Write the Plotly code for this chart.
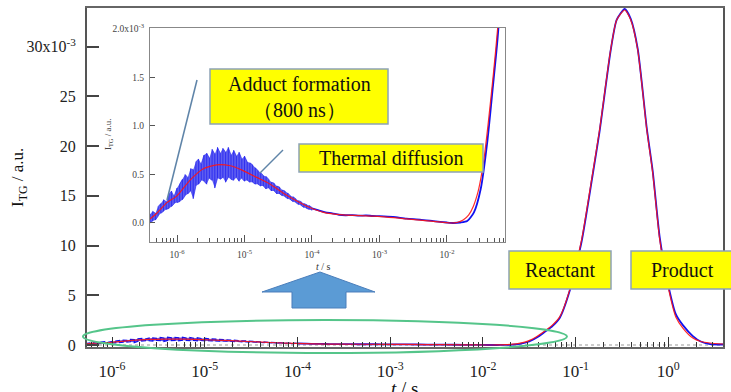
import plotly.graph_objects as go

# ---------------- data (values in units of 1e-3) ----------------
# fitted curve (red)
fit_log10_t = [-6.40, -6.30, -6.15, -6.00, -5.81, -5.61, -5.41, -5.21, -5.02, -4.82,
               -4.62, -4.43, -4.23, -4.03, -3.83, -3.54, -3.09, -2.60, -2.20, -1.95,
               -1.85, -1.76, -1.68, -1.61, -1.54, -1.49, -1.44, -1.39, -1.31, -1.25,
               -1.17, -1.065, -0.935, -0.816, -0.741, -0.622, -0.557, -0.47, -0.405, -0.33,
               -0.232, -0.168, -0.092, 0.005, 0.081, 0.157, 0.265, 0.35, 0.449, 0.59]
fit_value = [0.04, 0.10, 0.21, 0.28, 0.44, 0.56, 0.60, 0.59, 0.54, 0.47,
             0.40, 0.31, 0.23, 0.16, 0.11, 0.084, 0.07, 0.042, 0.017, 0.0,
             0.005, 0.03, 0.08, 0.17, 0.32, 0.49, 0.72, 1.02, 1.55, 2.0,
             2.85, 5.5, 10.6, 17.3, 21.65, 29.7, 32.7, 33.7, 32.7, 29.7,
             21.65, 17.3, 10.57, 5.54, 2.82, 1.71, 0.7, 0.35, 0.2, 0.1]

# measured signal (blue): noisy early part, upper / lower excursions
noise_log10_t = [-6.40, -6.36, -6.32, -6.28, -6.24, -6.20, -6.16, -6.12, -6.08, -6.04,
                 -6.00, -5.96, -5.92, -5.88, -5.84, -5.80, -5.76, -5.72, -5.68, -5.64,
                 -5.60, -5.56, -5.52, -5.48, -5.44, -5.40, -5.36, -5.32, -5.28, -5.24,
                 -5.20, -5.16, -5.12, -5.08, -5.04, -5.00, -4.96, -4.92, -4.88, -4.84,
                 -4.80, -4.76, -4.72, -4.68, -4.64, -4.60, -4.56, -4.52, -4.48, -4.44,
                 -4.40, -4.36, -4.32, -4.28, -4.24, -4.20, -4.16, -4.12, -4.08, -4.04, -4.00]
noise_high = [0.09, 0.12, 0.10, 0.17, 0.20, 0.24, 0.22, 0.30, 0.33, 0.28,
              0.36, 0.40, 0.45, 0.50, 0.47, 0.56, 0.55, 0.63, 0.66, 0.61,
              0.70, 0.72, 0.67, 0.76, 0.71, 0.78, 0.72, 0.77, 0.73, 0.78,
              0.70, 0.75, 0.69, 0.73, 0.66, 0.69, 0.63, 0.62, 0.60, 0.57,
              0.54, 0.52, 0.49, 0.48, 0.45, 0.42, 0.41, 0.38, 0.37, 0.34,
              0.33, 0.31, 0.28, 0.27, 0.25, 0.23, 0.22, 0.20, 0.19, 0.18, 0.16]
noise_low = [0.00, 0.02, 0.03, 0.07, 0.10, 0.12, 0.14, 0.15, 0.17, 0.20,
             0.21, 0.22, 0.24, 0.28, 0.30, 0.33, 0.25, 0.38, 0.40, 0.44,
             0.43, 0.40, 0.46, 0.44, 0.36, 0.46, 0.45, 0.47, 0.42, 0.47,
             0.45, 0.44, 0.47, 0.43, 0.46, 0.43, 0.44, 0.42, 0.42, 0.40,
             0.40, 0.38, 0.38, 0.35, 0.36, 0.33, 0.33, 0.30, 0.30, 0.28,
             0.27, 0.25, 0.24, 0.22, 0.21, 0.19, 0.18, 0.16, 0.15, 0.14, 0.13]

# measured signal (blue): later part
signal_log10_t = [-4.00, -3.90, -3.80, -3.70, -3.60, -3.50, -3.40, -3.30, -3.20, -3.10,
                  -3.00, -2.80, -2.60, -2.40, -2.20, -2.00, -1.90, -1.80, -1.70, -1.60,
                  -1.50, -1.40, -1.32, -1.25, -1.17, -1.065, -0.935, -0.816, -0.741, -0.622,
                  -0.557, -0.47, -0.405, -0.33, -0.232, -0.168, -0.092, 0.005, 0.081, 0.157,
                  0.265, 0.35, 0.449, 0.59]
signal_value = [0.15, 0.13, 0.11, 0.10, 0.085, 0.08, 0.082, 0.075, 0.078, 0.072,
                0.07, 0.062, 0.045, 0.035, 0.02, 0.005, 0.0, 0.005, 0.02, 0.11,
                0.35, 0.85, 1.4, 1.9, 2.75, 5.4, 10.4, 17.1, 21.5, 29.6,
                32.7, 33.8, 32.8, 29.8, 21.8, 17.5, 10.8, 5.8, 3.1, 2.0,
                0.9, 0.35, 0.1, 0.05]

# axis ticks
main_x_decades = [-6, -5, -4, -3, -2, -1, 0]
main_y_ticks = [0, 5, 10, 15, 20, 25, 30]
main_y_labels = ["0", "5", "10", "15", "20", "25", "30x10<sup>-3</sup>"]
inset_x_decades = [-6, -5, -4, -3, -2]
inset_y_ticks = [0.0, 0.5, 1.0, 1.5, 2.0]
inset_y_labels = ["0.0", "0.5", "1.0", "1.5", "2.0x10<sup>-3</sup>"]

# ---------------- build ----------------
S = 1e-3
fit_t = [10 ** v for v in fit_log10_t]
fit_y = [v * S for v in fit_value]
zz_t, zz_y = [], []
for i, (lt, hi, lo) in enumerate(zip(noise_log10_t, noise_high, noise_low)):
    pair = (hi, lo) if i % 2 == 0 else (lo, hi)
    for v in pair:
        zz_t.append(10 ** lt)
        zz_y.append(v * S)
band_t = [10 ** v for v in noise_log10_t] + [10 ** v for v in noise_log10_t[::-1]]
band_y = [v * S for v in noise_high] + [v * S for v in noise_low[::-1]]
sig_t = [10 ** v for v in signal_log10_t]
sig_y = [v * S for v in signal_value]

SERIF = '"Liberation Serif", "Times New Roman", Times, serif'
BLUE = "#1010F0"
RED = "rgba(255,20,20,0.9)"

fig = go.Figure()
for xa, ya, w in (("x", "y", 1.2), ("x2", "y2", 0.6)):
    fig.add_trace(go.Scatter(x=band_t, y=band_y, mode="lines", xaxis=xa, yaxis=ya,
                             fill="toself", fillcolor="rgba(25,25,235,0.7)",
                             line=dict(color="rgba(0,0,0,0)", width=0), hoverinfo="skip"))
    fig.add_trace(go.Scatter(x=zz_t, y=zz_y, mode="lines", xaxis=xa, yaxis=ya,
                             line=dict(color=BLUE, width=w), hoverinfo="skip"))
    fig.add_trace(go.Scatter(x=sig_t, y=sig_y, mode="lines", xaxis=xa, yaxis=ya,
                             line=dict(color=BLUE, width=1.8, shape="spline", smoothing=0.6),
                             hoverinfo="skip"))
    fig.add_trace(go.Scatter(x=fit_t, y=fit_y, mode="lines", xaxis=xa, yaxis=ya,
                             line=dict(color=RED, width=1.2, shape="spline", smoothing=0.6),
                             hoverinfo="skip"))

W, H = 731, 392
L, R, T, B = 87, 723, 8, 347
PW, PH = R - L, B - T


def px(x):
    return (x - L) / PW


def py(y):
    return (B - y) / PH


def minor_vals(lo, hi):
    out = []
    for d in range(lo, hi):
        for m in range(2, 10):
            out.append(m * 10 ** d)
    return out


fig.update_layout(
    width=W, height=H, showlegend=False,
    margin=dict(l=L, r=W - R, t=T, b=H - B, autoexpand=False),
    paper_bgcolor="white", plot_bgcolor="white",
    font=dict(family=SERIF, color="#222"),
    xaxis=dict(type="log", range=[-6.27, 0.59], domain=[0, 1], automargin=False,
               tickmode="array", tickvals=[10 ** d for d in main_x_decades],
               ticktext=["10<sup>%d</sup>" % d for d in main_x_decades],
               ticks="inside", ticklen=10, tickwidth=1.2, tickcolor="#333",
               ticklabelstandoff=8,
               showline=True, linecolor="#666", linewidth=2, mirror=True,
               showgrid=False, zeroline=False,
               tickfont=dict(family=SERIF, size=17, color="#222"),
               minor=dict(tickmode="array", tickvals=minor_vals(-7, 1),
                          ticks="inside", ticklen=5, tickcolor="#333", tickwidth=1,
                          showgrid=False)),
    yaxis=dict(range=[-0.2 * S, 33.9 * S], domain=[0, 1], automargin=False,
               tickmode="array", tickvals=[v * S for v in main_y_ticks], ticktext=main_y_labels,
               ticks="inside", ticklen=12, tickwidth=1.5, tickcolor="#444",
               ticklabelstandoff=6,
               showline=True, linecolor="#555", linewidth=2, mirror=True,
               showgrid=False, zeroline=False,
               tickfont=dict(family=SERIF, size=16, color="#222")),
    xaxis2=dict(type="log", range=[-6.4, -1.14], domain=[px(150), px(505)], anchor="y2",
                automargin=False,
                tickmode="array", tickvals=[10 ** d for d in inset_x_decades],
                ticktext=["10<sup>%d</sup>" % d for d in inset_x_decades],
                ticks="inside", ticklen=7, tickwidth=1, tickcolor="#555",
                ticklabelstandoff=4,
                showline=True, linecolor="#888", linewidth=1, mirror=True,
                showgrid=False, zeroline=False,
                tickfont=dict(family=SERIF, size=9.5, color="#444"),
                minor=dict(tickmode="array", tickvals=minor_vals(-7, -1),
                           ticks="inside", ticklen=4, tickcolor="#555", tickwidth=1,
                           showgrid=False)),
    yaxis2=dict(range=[-0.196 * S, 2.01 * S], domain=[py(242), py(28)], anchor="x2",
                automargin=False,
                tickmode="array", tickvals=[v * S for v in inset_y_ticks], ticktext=inset_y_labels,
                ticks="inside", ticklen=5, tickwidth=1, tickcolor="#555",
                ticklabelstandoff=3,
                showline=True, linecolor="#888", linewidth=1, mirror=True,
                showgrid=False, zeroline=False,
                tickfont=dict(family=SERIF, size=9.5, color="#444")),
)

shapes = []
# dotted zero lines
shapes.append(dict(type="line", xref="x domain", yref="y", x0=0, x1=1, y0=0, y1=0,
                   line=dict(color="#999", width=1, dash="dot"), layer="below"))
shapes.append(dict(type="line", xref="x2 domain", yref="y2", x0=0, x1=1, y0=0, y1=0,
                   line=dict(color="#999", width=1, dash="dot"), layer="below"))
# green ellipse
shapes.append(dict(type="circle", xref="paper", yref="paper",
                   x0=px(83), x1=px(567), y0=py(353), y1=py(320),
                   line=dict(color="#55C58A", width=2)))
# blue arrow
arrow_pts = [(320, 272), (375, 292), (346, 292), (346, 308), (292, 308), (292, 292), (262, 292)]
path = "M " + " L ".join("%f %f" % (px(x), py(y)) for x, y in arrow_pts) + " Z"
shapes.append(dict(type="path", xref="paper", yref="paper", path=path,
                   fillcolor="#5B9BD5", line=dict(color="#4A7EBB", width=1)))
# connector lines
for (x0, y0, x1, y1) in [(197, 80, 167, 200), (283, 150, 260, 173)]:
    shapes.append(dict(type="line", xref="paper", yref="paper",
                       x0=px(x0), y0=py(y0), x1=px(x1), y1=py(y1),
                       line=dict(color="#5F84A8", width=1.5)))
# yellow label boxes
boxes = [(210, 69, 388, 124), (299, 144, 483, 172), (509, 251, 611, 289), (631, 251, 740, 289)]
for (x0, y0, x1, y1) in boxes:
    shapes.append(dict(type="rect", xref="paper", yref="paper",
                       x0=px(x0), y0=py(y1), x1=px(x1), y1=py(y0),
                       fillcolor="#FFFF00", line=dict(color="#8DA3B6", width=1.5)))
fig.update_layout(shapes=shapes)

ann = []


def add_text(text, x, y, size, **kw):
    d = dict(text=text, xref="paper", yref="paper", x=px(x), y=py(y),
             showarrow=False, font=dict(family=SERIF, size=size, color=kw.pop("color", "#111")))
    d.update(kw)
    ann.append(d)


add_text("Adduct formation<br>（800 ns）", 299, 97, 20, xanchor="center", yanchor="middle")
add_text("Thermal diffusion", 391, 158, 20, xanchor="center", yanchor="middle")
add_text("Reactant", 560, 270, 20, xanchor="center", yanchor="middle")
add_text("Product", 682, 270, 20, xanchor="center", yanchor="middle")
add_text("I<sub>TG</sub> / a.u.", 19, 178, 17, textangle=-90, xanchor="center", yanchor="middle")
add_text("I<sub>TG</sub> / a.u.", 108, 135, 9, textangle=-90, xanchor="center", yanchor="middle",
         color="#444")
add_text("<i>t</i> / s", 323, 266, 10, xanchor="center", yanchor="middle", color="#333")
add_text("<i>t</i> / s", 404, 376, 19, xanchor="center", yanchor="top")
fig.update_layout(annotations=ann)

fig.write_html("out.html", config={"displayModeBar": False},
               post_script="document.body.style.margin='0';document.body.style.padding='0';")
